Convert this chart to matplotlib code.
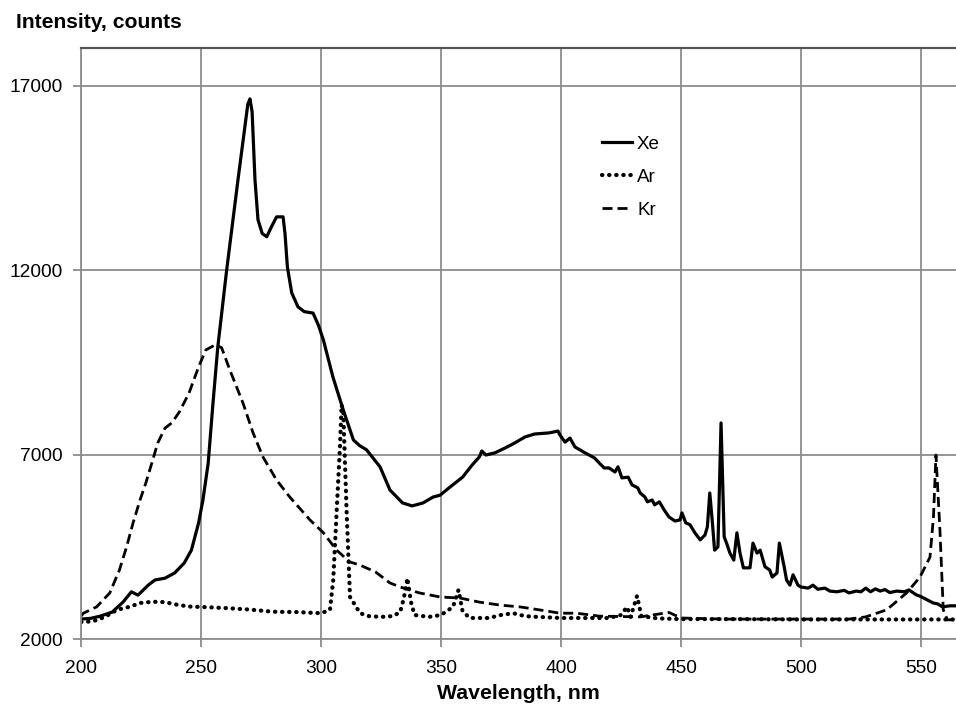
import matplotlib
matplotlib.use("Agg")
import matplotlib.pyplot as plt

plt.rcParams['font.family'] = ['Liberation Sans', 'DejaVu Sans']

# Xe spectrum (solid)
xe_nm = [200, 204, 208, 213, 217.5, 221, 223.75, 228, 230.8, 235, 239, 243, 246, 249, 250.8,
         253, 255, 257, 260.7, 265.4, 269.5, 270.4, 271.3, 272.5, 273.75, 275.5, 277.4, 279.5,
         281.5, 284.2, 285, 286, 287.8, 290.4, 293, 296.7, 299, 301, 305, 309.3, 313.5, 316,
         319, 324.6, 328.75, 334, 338, 342.5, 346.7, 349.6, 353.75, 359, 363, 366, 367, 368.75,
         372.5, 376.7, 380.8, 385, 389, 395, 398.75, 399.6, 401.7, 403.75, 405.8, 410, 414, 416,
         418, 420, 422.5, 423.75, 425.4, 428, 429.6, 432, 433, 435, 436, 438, 439, 441, 443, 445,
         447.5, 449.6, 450.4, 452, 453.75, 455.8, 458, 460, 461, 462, 463, 464, 465.4, 466.7,
         468, 469, 470.4, 472, 473.3, 474.6, 476, 478.75, 480, 481.7, 483, 485, 487, 488, 490,
         491, 493, 494, 495.4, 496.7, 498.75, 500, 503, 505, 507, 510, 512, 515, 518, 520, 523,
         525, 527, 529, 531, 533, 535, 537, 540, 543, 545, 548, 550, 553, 555, 557, 559, 562,
         564.6]
xe_counts = [2540, 2560, 2620, 2730, 3000, 3280, 3190, 3460, 3600, 3650, 3790, 4060, 4410, 5150,
             5770, 6770, 8400, 9920, 12010, 14450, 16500, 16650, 16300, 14450, 13370, 13000,
             12910, 13200, 13450, 13450, 13000, 12090, 11390, 11010, 10880, 10840, 10500, 10110,
             9100, 8210, 7400, 7250, 7130, 6670, 6040, 5690, 5610, 5690, 5850, 5900, 6120, 6390,
             6720, 6940, 7100, 6990, 7050, 7180, 7320, 7480, 7560, 7590, 7640, 7530, 7340, 7450,
             7210, 7050, 6910, 6770, 6640, 6640, 6530, 6670, 6370, 6390, 6180, 6100, 5960, 5850,
             5720, 5770, 5640, 5720, 5500, 5310, 5200, 5230, 5420, 5150, 5100, 4880, 4690, 4820,
             5040, 5960, 5230, 4410, 4500, 7860, 4770, 4600, 4330, 4140, 4880, 4330, 3930, 3930,
             4600, 4330, 4410, 3960, 3870, 3680, 3790, 4600, 3960, 3600, 3460, 3740, 3460, 3410,
             3380, 3460, 3350, 3380, 3300, 3280, 3320, 3250, 3300, 3280, 3380, 3280, 3360, 3300,
             3340, 3260, 3300, 3280, 3330, 3200, 3150, 3050, 2980, 2950, 2870, 2900, 2900]

# Ar spectrum (dotted)
ar_nm = [200, 205, 210, 215, 220, 225, 230, 235, 240, 245, 250, 260, 270, 280, 290, 300, 303.75,
         305.1, 306.5, 307.9, 308.6, 309.3, 310.7, 312.1, 316.25, 320, 325, 330, 333, 334.5, 336,
         337.5, 339, 345, 350, 355, 357.3, 359, 362, 370, 375, 380, 385, 390, 400, 410, 420, 425,
         427.5, 429, 431.7, 433.5, 440, 450, 470, 500, 530, 564.6]
ar_counts = [2460, 2480, 2600, 2790, 2870, 2980, 3010, 3000, 2930, 2880, 2870, 2840, 2800, 2740,
             2730, 2700, 2790, 3600, 5420, 7210, 8350, 8130, 5420, 3140, 2700, 2620, 2600, 2620,
             2730, 3100, 3650, 3000, 2650, 2600, 2650, 2870, 3330, 2750, 2570, 2570, 2650, 2700,
             2620, 2600, 2570, 2570, 2570, 2650, 2870, 2600, 3170, 2620, 2560, 2540, 2540, 2530,
             2530, 2530]

# Kr spectrum (dashed)
kr_nm = [200, 201, 206.5, 212, 216, 219, 221.7, 224.6, 227, 229.5, 232, 235, 237.8, 241, 245, 249,
         252, 256, 258.6, 262, 267.5, 271.7, 275.8, 281.5, 287, 295.4, 301, 306.5, 312, 316,
         322.7, 328.75, 333, 336, 341, 349.6, 358, 366, 374.6, 383, 391, 399.6, 406.5, 416, 433,
         445, 450, 467, 500, 520, 527, 535.7, 544, 549.6, 553.75, 555.2, 556.25, 557.9, 559.3,
         561, 564.6]
kr_counts = [2620, 2700, 2870, 3250, 3870, 4500, 5150, 5770, 6230, 6770, 7320, 7720, 7860, 8160,
             8670, 9380, 9840, 9980, 9900, 9300, 8400, 7590, 6940, 6310, 5850, 5230, 4880, 4410,
             4090, 4010, 3820, 3520, 3410, 3350, 3250, 3140, 3110, 3000, 2920, 2870, 2790, 2700,
             2700, 2620, 2600, 2720, 2570, 2540, 2540, 2540, 2600, 2790, 3250, 3680, 4220, 5300,
             6990, 4960, 2790, 2520, 2520]

fig = plt.figure(figsize=(9.56, 7.07), dpi=100)
ax = fig.add_axes([81 / 956, 68 / 707, 875 / 956, 591 / 707])

ax.plot(xe_nm, xe_counts, color='black', lw=2.3, label='Xe', solid_joinstyle='round')
ax.plot(ar_nm, ar_counts, color='black', lw=3.0, linestyle=(0, (0.1, 1.6)),
        dash_capstyle='round', label='Ar')
ax.plot(kr_nm, kr_counts, color='black', lw=2.0, linestyle=(0, (3.6, 1.8)), label='Kr')

ax.set_xlim(200, 564.6)
ax.set_ylim(2000, 18030)
ax.set_xticks([200, 250, 300, 350, 400, 450, 500, 550])
ax.set_yticks([2000, 7000, 12000, 17000])
ax.grid(True, color='#8c8c8c', lw=1.3)
ax.set_axisbelow(True)
ax.tick_params(axis='both', length=6, width=1.3, color='#8c8c8c', labelsize=13.8)
ax.tick_params(axis='x', pad=9)
ax.tick_params(axis='y', pad=7)

for side in ['left', 'bottom']:
    ax.spines[side].set_color('#8c8c8c')
    ax.spines[side].set_linewidth(1.3)
ax.spines['top'].set_color('#555555')
ax.spines['top'].set_linewidth(1.6)
ax.spines['right'].set_visible(False)

ax.set_xlabel('Wavelength, nm', fontsize=15.3, fontweight='bold', labelpad=5)
fig.text(16 / 956, 1 - 23 / 707, 'Intensity, counts', fontsize=15.2, fontweight='bold',
         va='center', ha='left')

ax.legend(loc='upper left', bbox_to_anchor=(0.5954, 0.852), frameon=False, fontsize=13.5,
          handlelength=1.6, handletextpad=0.27, labelspacing=0.85, borderpad=0, borderaxespad=0)

fig.savefig('out.png', dpi=100)
